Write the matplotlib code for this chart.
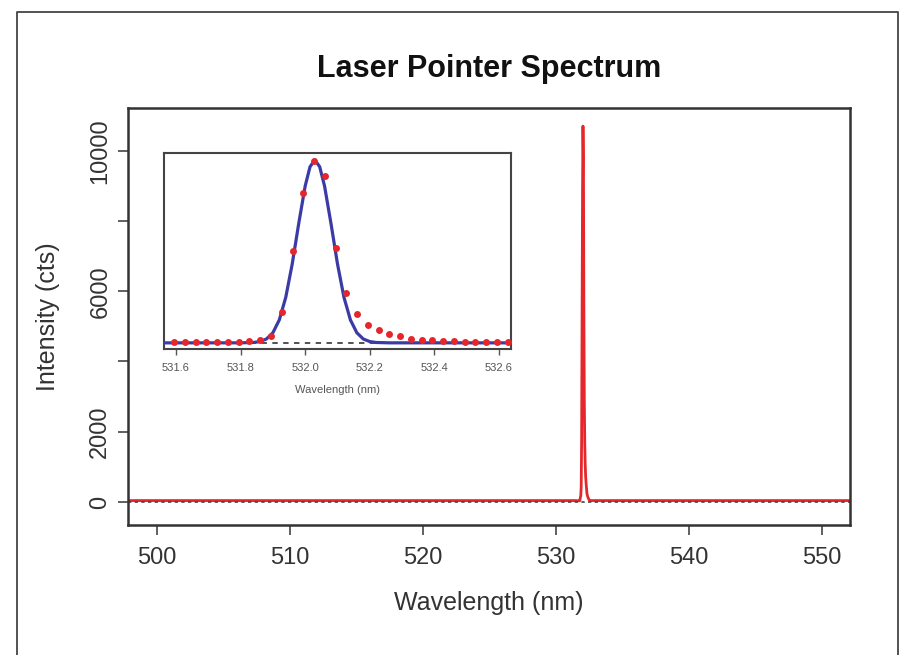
import matplotlib
matplotlib.use("Agg")
import matplotlib.pyplot as plt
from matplotlib.lines import Line2D

plt.rcParams['font.family'] = ['Liberation Sans', 'DejaVu Sans']

# measured spectrum (counts) - peak region sampled as in the inset
dots_wl = [531.594, 531.627, 531.661, 531.694, 531.727, 531.761, 531.794, 531.827,
           531.861, 531.894, 531.927, 531.961, 531.994, 532.027, 532.061, 532.094,
           532.127, 532.161, 532.194, 532.227, 532.261, 532.294, 532.327, 532.361,
           532.394, 532.427, 532.461, 532.494, 532.527, 532.561, 532.594, 532.627]
dots_cts = [35, 35, 35, 35, 35, 35, 40, 120,
            180, 430, 1830, 5380, 8820, 10700, 9780, 5590,
            2900, 1680, 1070, 730, 540, 380, 240, 180,
            140, 110, 80, 60, 50, 45, 40, 40]

# flat baseline on both sides of the line
base_left_wl = [497.8, 500, 505, 510, 515, 520, 525, 530, 531.5]
base_left_cts = [40, 40, 40, 40, 40, 40, 40, 40, 40]
base_right_wl = [533, 535, 540, 545, 550, 552.1]
base_right_cts = [40, 40, 40, 40, 40, 40]

# gaussian fit (blue)
fit_wl = [531.56, 531.80, 531.84, 531.86, 531.88, 531.90, 531.92, 531.94, 531.96,
          531.98, 532.00, 532.015, 532.03, 532.045, 532.06, 532.08, 532.10, 532.12,
          532.14, 532.16, 532.18, 532.20, 532.22, 532.26, 532.64]
fit_cts = [0, 1, 22, 75, 226, 592, 1350, 2680, 4640,
           7000, 9210, 10340, 10750, 10340, 9210, 7000, 4640, 2680,
           1350, 592, 226, 75, 22, 1, 0]

x_ticks = [500, 510, 520, 530, 540, 550]
y_ticks = [0, 2000, 4000, 6000, 8000, 10000]
y_labels = ['0', '2000', '', '6000', '', '10000']
inset_ticks = [531.6, 531.8, 532.0, 532.2, 532.4, 532.6]

red = '#e5262b'
blue = '#3b3ba6'
dark = '#333333'

spec_wl = base_left_wl + dots_wl + base_right_wl
spec_cts = base_left_cts + dots_cts + base_right_cts

fig = plt.figure(figsize=(9.05, 6.55), dpi=100)

ax = fig.add_axes([0.1414, 0.1985, 0.7978, 0.6366])
ax.plot(spec_wl, spec_cts, color=red, lw=2)
ax.axhline(0, color='#444444', lw=1.2, ls=(0, (2, 2)))
ax.set_xlim(497.82, 552.1)
ax.set_ylim(-655, 11215)
ax.set_xticks(x_ticks)
ax.set_yticks(y_ticks)
ax.set_yticklabels(y_labels, rotation=90, va='center')
ax.tick_params(length=7, width=1.2, color='#444444', labelsize=17,
               labelcolor=dark, pad=5)
ax.tick_params(axis='x', pad=9)
for s in ax.spines.values():
    s.set_linewidth(1.8)
    s.set_color(dark)
ax.set_xlabel('Wavelength (nm)', fontsize=18, color=dark, labelpad=16)
ax.set_ylabel('Intensity (cts)', fontsize=18, color=dark, labelpad=21)
ax.set_title('Laser Pointer Spectrum', fontsize=22, fontweight='bold',
             color='#111111', pad=22)

ins = fig.add_axes([0.1812, 0.4672, 0.3834, 0.2992])
ins.axhline(0, color='#444444', lw=1.3, ls=(0, (3, 3)))
ins.plot(fit_wl, fit_cts, color=blue, lw=2.3, zorder=3)
ins.plot(dots_wl, dots_cts, 'o', color=red, ms=5, mec='none', zorder=4)
ins.set_xlim(531.563, 532.637)
ins.set_ylim(-360, 11150)
ins.set_yticks([])
ins.set_xticks(inset_ticks)
ins.set_xticklabels(['531.6', '531.8', '532.0', '532.2', '532.4', '532.6'])
ins.tick_params(length=4, width=1, color='#555555', labelsize=8,
                labelcolor='#555555', pad=6)
for s in ins.spines.values():
    s.set_linewidth(1.5)
    s.set_color('#444444')
ins.set_xlabel('Wavelength (nm)', fontsize=8, color='#555555', labelpad=9)

# page frame around the figure
x0, x1, yt = 17 / 905, 898 / 905, 1 - 12 / 655
fig.add_artist(Line2D([x0, x0, x1, x1], [-0.1, yt, yt, -0.1],
                      transform=fig.transFigure, color='#444444', lw=1.3))

fig.savefig('out.png', dpi=100)
